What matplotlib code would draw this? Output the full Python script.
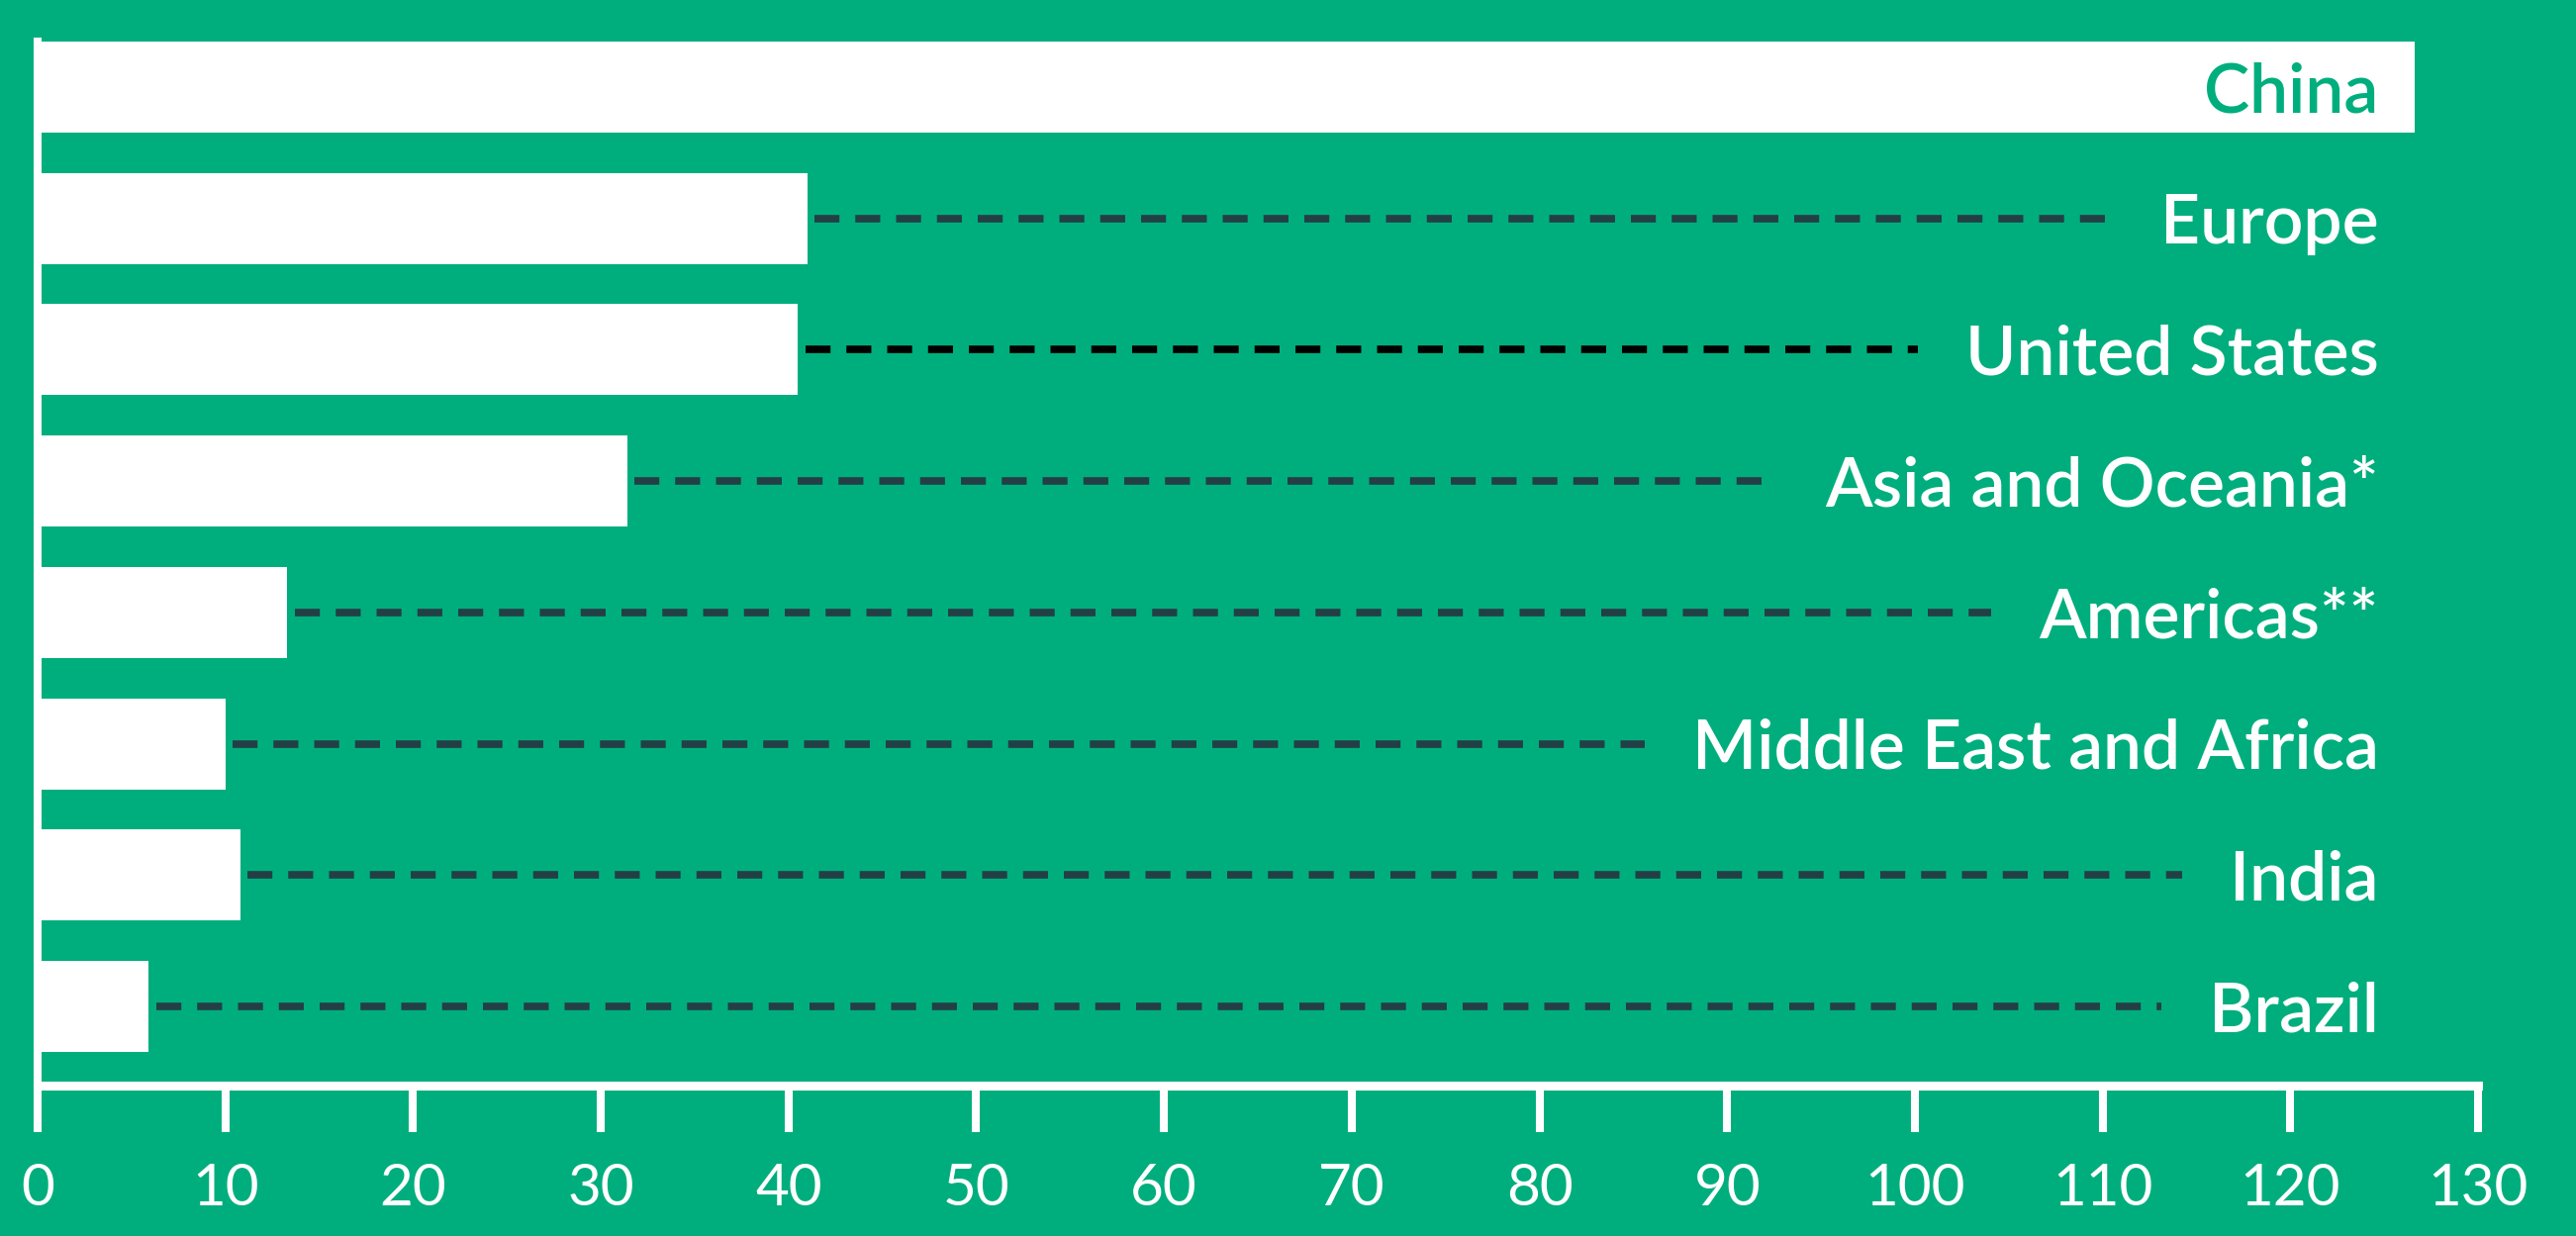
import matplotlib
matplotlib.use("Agg")
import matplotlib.pyplot as plt

# data, top to bottom
regions = ["China", "Europe", "United States", "Asia and Oceania*", "Americas**",
           "Middle East and Africa", "India", "Brazil"]
values = [126.6, 41.0, 40.5, 31.4, 13.3, 10.0, 10.8, 5.9]
xticks = [0, 10, 20, 30, 40, 50, 60, 70, 80, 90, 100, 110, 120, 130]

green = "#00AE7D"
dash_col = "#233F45"

plt.rcParams["font.family"] = ["Lato", "DejaVu Sans"]

fig = plt.figure(figsize=(26.03, 12.49), dpi=100, facecolor=green)
ax = fig.add_axes([0.0146, 0.1217, 0.9474, 0.8449])
ax.set_facecolor(green)

n = len(regions)
ypos = [n - 1 - i for i in range(n)]

ax.barh(ypos, values, height=0.693, color="white", zorder=2)

ax.set_xlim(0, 130)
ax.set_ylim(-0.603, 7.349)

for s in ["top", "right"]:
    ax.spines[s].set_visible(False)
ax.spines["bottom"].set_color("white")
ax.spines["bottom"].set_linewidth(6.5)
ax.spines["bottom"].set_capstyle("projecting")
ax.spines["left"].set_color("white")
ax.spines["left"].set_linewidth(5.8)
ax.spines["left"].set_zorder(3)

ax.set_yticks([])
ax.set_xticks(xticks)
ax.set_xticklabels([str(t) for t in xticks])
ax.tick_params(axis="x", colors="white", length=34, width=5.8, pad=22, labelsize=42)

label_x = 124.7
fig.canvas.draw()
renderer = fig.canvas.get_renderer()
inv = ax.transData.inverted()

for i, (name, val) in enumerate(zip(regions, values)):
    y = ypos[i]
    col = green if i == 0 else "white"
    t = ax.text(label_x, y - 0.19, name, ha="right", va="baseline",
                fontsize=50, color=col, fontweight="semibold", zorder=4)
    if i == 0:
        continue
    # dashed leader from bar end to just before the label
    bb = t.get_window_extent(renderer)
    x_end = inv.transform((bb.x0 - 48, bb.y0))[0]
    lc = "black" if name == "United States" else dash_col
    ax.plot([val + 0.4, x_end], [y, y], color=lc, lw=5.5,
            linestyle=(0, (3.3, 2.1)), dash_capstyle="butt", zorder=1)

fig.savefig("out.png", dpi=100, facecolor=green)
